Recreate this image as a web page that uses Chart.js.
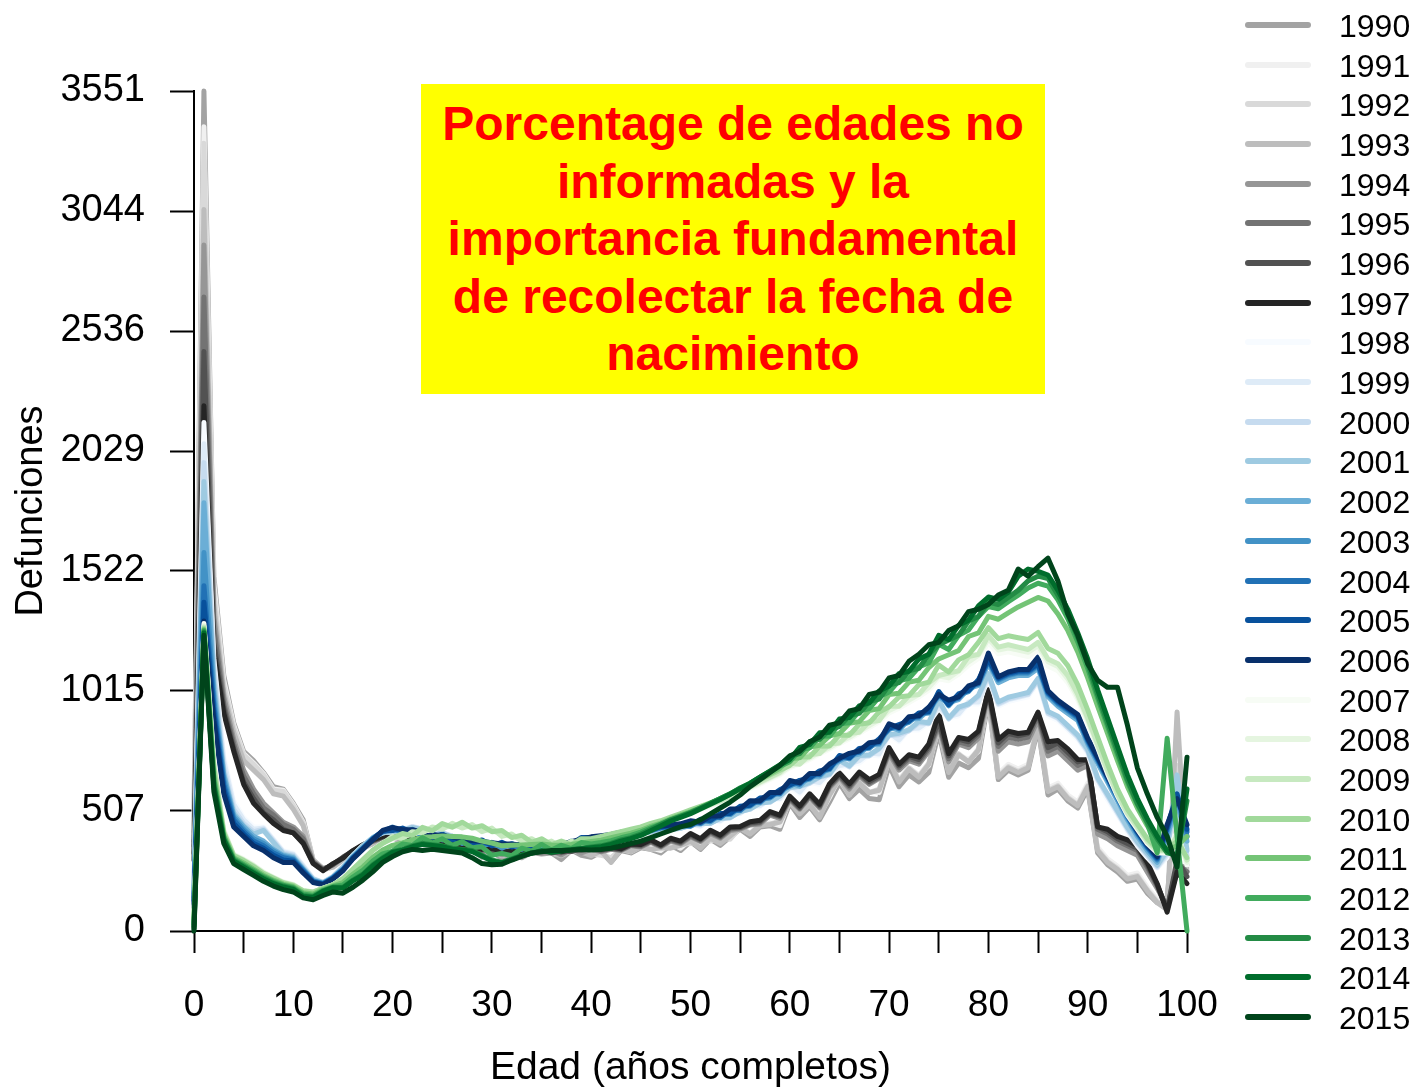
<!DOCTYPE html>
<html>
<head>
<meta charset="utf-8">
<script src="https://cdn.jsdelivr.net/npm/chart.js@4.4.1/dist/chart.umd.min.js"></script>
<style>
body{margin:0;background:#fff;}
#wrap{position:relative;width:1417px;height:1088px;overflow:hidden;font-family:"Liberation Sans",Arial,sans-serif;}
#note{position:absolute;left:421px;top:84px;width:624px;height:310px;background:#ffff00;color:#ff0000;
 font-weight:bold;font-size:48px;line-height:57.5px;text-align:center;display:flex;align-items:center;justify-content:center;}
#legend{position:absolute;left:0;top:0;}
.item{position:absolute;left:1245px;height:40px;width:172px;}
.item .ln{position:absolute;left:0;top:17px;width:66px;height:6px;border-radius:3px;}
.item .tx{position:absolute;left:94px;top:1px;font-size:32px;line-height:40px;color:#000;}
</style>
</head>
<body>
<div id="wrap">
<canvas id="chart" width="1417" height="1088"></canvas>
<div id="note"><div>Porcentage de edades no<br>informadas y la<br>importancia fundamental<br>de recolectar la fecha de<br>nacimiento</div></div>
<div id="legend"></div>
</div>
<script>
//DATA
const AGES=[0,1,2,3,4,5,6,7,8,9,10,11,12,13,14,15,16,17,18,19,20,21,22,23,24,25,26,27,28,29,30,31,32,33,34,35,36,37,38,39,40,
41,42,43,44,45,46,47,48,49,50,51,52,53,54,55,56,57,58,59,60,61,62,63,64,65,66,67,68,69,70,71,72,73,74,75,76,77,78,79,80,
81,82,83,84,85,86,87,88,89,90,91,92,93,94,95,96,97,98,99,100];
const YEARS=[1990,1991,1992,1993,1994,1995,1996,1997,1998,1999,2000,2001,2002,2003,2004,2005,2006,2007,2008,2009,2010,2011,2012,2013,2014,2015];
const COLORS=['#a3a3a3','#f0f0f0','#d9d9d9','#bdbdbd','#969696','#737373','#525252','#252525',
'#f7fbff','#deebf7','#c6dbef','#9ecae1','#6baed6','#4292c6','#2171b5','#08519c','#08306b',
'#f7fcf5','#e5f5e0','#c7e9c0','#a1d99b','#74c476','#41ab5d','#238b45','#006d2c','#00441b'];
const Y_TICKS=[0,507.3,1014.6,1521.9,2029.1,2536.4,3043.7,3551];
const Y_MAX=3551;
const X_TICK_LABELS=[0,10,20,30,40,50,60,70,80,90,100];

// deaths by age, one array per year
const D1990=[520,3551,1500,1080,880,760,720,670,610,600,
540,470,300,265,275,305,335,355,375,392,
398,370,410,378,385,355,360,340,342,312,
338,305,332,310,332,325,330,302,342,320,
312,335,292,340,330,352,345,330,362,340,
378,345,388,362,398,430,400,440,445,430,
540,480,525,470,545,625,560,600,560,555,
700,610,660,630,670,840,650,710,690,730,
975,640,680,660,680,860,575,600,550,520,
600,330,280,250,210,220,160,120,140,600,
400];
const D1991=[480,3400,1470,1060,870,750,710,665,600,595,
535,460,295,260,270,300,330,350,372,392,
400,390,408,395,385,375,365,358,345,335,
340,325,335,330,336,345,335,325,345,340,
330,345,300,352,340,360,352,340,372,350,
386,355,398,375,410,440,415,452,458,445,
555,500,540,490,565,650,585,625,590,585,
730,640,690,660,700,870,680,745,725,760,
995,665,705,685,705,885,605,625,575,545,
625,355,305,275,235,245,185,135,110,480,
350];
const D1992=[450,3330,1430,1040,860,745,705,660,595,590,
530,455,300,262,272,302,332,352,370,390,
396,386,402,388,380,370,360,354,340,330,
336,320,330,326,332,340,330,320,340,336,
325,320,310,345,335,358,346,352,355,366,
370,372,380,392,388,436,412,448,452,466,
545,498,535,485,575,640,575,630,585,600,
725,635,690,655,710,860,675,750,715,770,
985,655,695,675,695,875,595,615,565,535,
615,345,295,265,225,235,175,125,100,700,
300];
const D1993=[420,3050,1380,1010,840,720,680,640,580,570,
515,445,298,258,270,300,330,350,368,388,
392,382,398,386,378,368,358,352,338,328,
334,318,328,324,330,338,328,318,338,334,
318,338,290,345,336,355,345,352,350,362,
380,350,392,370,402,435,410,445,450,460,
545,495,535,480,575,645,575,625,585,595,
720,630,685,650,705,865,670,745,715,765,
990,650,690,670,690,870,590,610,560,530,
610,340,290,260,220,230,170,120,90,926,
250];
const D1994=[380,2900,1330,990,810,680,600,540,500,460,
440,400,295,262,280,308,335,358,378,395,
405,385,398,375,392,365,372,352,358,332,
352,322,342,322,342,328,340,322,348,330,
345,335,345,340,360,355,375,355,380,368,
398,378,412,392,425,430,448,452,490,476,
555,515,565,520,605,650,600,655,620,645,
750,680,720,705,760,865,715,790,775,815,
1000,760,800,790,800,895,740,760,720,680,
700,410,390,360,340,320,250,180,100,250,
280];
const D1995=[360,2680,1280,960,790,655,580,520,490,450,
430,390,292,260,280,310,335,360,380,395,
400,395,392,380,385,370,365,360,350,340,
345,330,335,330,335,335,335,330,340,340,
350,338,348,342,362,358,378,358,384,372,
402,382,418,396,430,435,452,458,495,482,
560,518,570,525,612,655,608,662,625,650,
760,690,730,715,770,875,728,800,788,828,
1010,780,820,810,820,910,760,780,740,700,
720,430,410,380,360,340,270,190,95,280,
250];
const D1996=[330,2450,1220,940,770,630,560,500,470,430,
415,375,288,258,282,312,338,362,382,398,
395,405,385,385,380,378,360,368,345,348,
340,338,330,340,330,345,330,338,336,348,
352,342,350,345,366,362,382,360,388,376,
408,386,422,400,435,438,458,462,500,486,
565,522,575,530,616,660,615,668,632,656,
768,698,738,725,780,888,740,810,800,838,
1015,795,835,825,835,920,775,795,755,715,
725,440,420,390,370,350,280,195,90,300,
230];
const D1997=[300,2220,1180,920,760,620,540,495,455,425,
415,370,285,255,285,308,340,365,385,400,
405,400,395,380,390,375,370,365,355,345,
350,335,340,335,340,340,340,335,345,345,
355,345,355,348,368,366,386,364,392,380,
412,390,426,405,440,442,462,468,505,490,
570,528,580,536,622,668,622,672,640,662,
775,705,745,735,790,920,750,818,810,845,
1020,810,845,835,840,925,800,805,770,725,
723,440,430,400,385,360,290,200,80,250,
200];
const D1998=[220,2150,1150,740,550,480,440,440,390,340,
330,280,225,208,232,272,320,360,395,415,
420,425,440,430,420,415,400,395,385,380,
370,365,360,355,360,365,360,355,365,375,
385,390,400,405,410,415,420,425,430,435,
450,440,468,462,492,495,528,525,560,555,
610,580,628,620,665,690,700,710,745,740,
830,800,850,850,880,940,900,910,960,960,
1070,950,970,980,990,1050,910,890,850,810,
750,620,555,490,420,360,310,265,310,600,
280];
const D1999=[210,2060,1130,720,535,470,430,435,385,335,
325,275,222,206,231,271,320,360,395,415,
422,428,442,432,422,416,402,396,386,382,
372,366,362,356,362,367,362,357,367,377,
387,392,402,407,412,417,422,427,432,437,
452,444,470,466,494,498,530,530,560,560,
618,588,636,628,672,700,706,720,752,748,
838,808,856,858,888,948,906,918,968,968,
1078,958,978,988,998,1058,918,898,858,818,
758,638,568,498,428,368,318,268,320,620,
300];
const D2000=[195,1980,1090,690,515,455,420,430,380,330,
320,270,220,205,230,270,320,360,395,415,
420,425,440,430,420,415,400,395,385,380,
370,365,360,355,360,365,360,355,365,375,
385,390,400,405,410,415,420,425,430,435,
446,456,454,478,478,506,514,542,544,572,
604,610,624,650,660,720,694,740,740,770,
826,830,846,880,876,970,896,940,956,990,
1082,962,982,992,1002,1062,922,902,862,822,
762,642,572,502,432,372,322,272,330,640,
320];
const D2001=[185,1900,1060,670,500,445,410,425,375,325,
315,265,218,204,229,269,320,360,395,415,
418,424,438,428,418,414,398,394,384,378,
368,364,358,354,358,364,358,354,364,374,
384,388,398,404,408,414,418,424,428,434,
448,454,456,476,480,504,516,540,546,570,
608,612,628,652,664,722,698,742,744,772,
830,836,850,886,880,976,900,946,960,996,
1088,968,988,998,1008,1068,928,908,868,828,
768,648,578,508,438,378,328,278,340,660,
340];
const D2002=[160,1810,1020,660,490,440,400,380,345,320,
310,262,214,202,227,262,312,352,392,420,
430,420,420,410,400,395,390,380,375,370,
365,360,360,355,360,365,360,360,370,380,
390,395,400,410,415,420,425,435,440,445,
460,452,480,478,510,508,545,542,580,578,
625,612,655,652,695,718,740,748,785,788,
865,848,895,898,935,988,965,978,1025,1038,
1130,1050,1070,1080,1080,1110,990,950,920,890,
790,710,630,550,470,400,340,290,400,540,
380];
const D2003=[145,1600,980,640,480,430,390,370,338,315,
305,258,212,201,226,261,311,351,391,420,
440,410,430,400,410,385,400,370,385,360,
375,350,370,345,370,355,370,350,380,370,
390,395,400,410,415,420,425,435,440,445,
442,468,462,492,492,522,527,557,562,592,
612,632,642,672,682,738,727,768,772,808,
852,868,882,918,922,1008,952,998,1012,1058,
1140,1060,1080,1090,1090,1120,1000,960,930,900,
800,720,640,560,480,410,350,300,420,560,
400];
const D2004=[130,1460,950,620,470,420,380,360,330,310,
300,255,210,200,225,260,310,350,390,420,
432,422,422,412,402,397,392,382,377,372,
367,362,362,357,362,367,362,362,372,382,
392,397,402,412,417,422,427,437,442,447,
462,455,482,480,512,510,547,545,582,580,
632,620,662,660,702,725,748,755,792,795,
872,855,902,905,942,995,972,985,1032,1045,
1145,1065,1085,1095,1095,1125,1005,965,935,905,
805,725,645,565,485,415,355,305,430,570,
420];
const D2005=[115,1390,920,600,455,410,370,350,320,300,
295,250,207,198,222,257,307,347,388,422,
425,435,415,425,395,410,385,395,370,385,
360,375,355,370,355,380,355,375,365,395,
395,400,405,415,420,425,430,440,445,450,
447,472,467,497,497,527,532,562,567,597,
617,637,647,677,687,742,732,772,777,812,
857,872,887,922,927,1012,957,1002,1017,1062,
1150,1070,1090,1100,1100,1130,1010,970,940,910,
810,730,650,570,490,420,360,310,440,580,
430];
const D2006=[100,1310,890,580,440,400,360,340,310,290,
290,245,205,196,220,255,305,345,385,425,
438,428,428,418,408,403,398,388,383,378,
373,368,368,363,368,373,368,368,378,388,
398,403,408,418,423,428,433,443,448,453,
466,460,486,486,516,516,551,550,586,586,
636,626,666,666,706,730,751,761,796,801,
876,860,906,910,946,1000,976,990,1036,1050,
1175,1075,1095,1105,1105,1158,1015,975,945,915,
815,735,655,575,495,425,365,315,450,560,
450];
const D2007=[70,1300,720,430,325,305,280,250,228,208,
198,172,166,180,195,222,262,302,342,372,
392,400,410,422,428,436,440,442,436,428,
422,408,398,388,380,374,368,364,368,374,
384,394,404,414,424,434,448,458,472,486,
500,514,528,544,562,582,602,620,640,660,
690,705,725,748,768,792,812,836,860,884,
922,942,966,990,1018,1066,1058,1086,1124,1152,
1220,1172,1180,1170,1160,1190,1120,1100,1050,975,
880,775,665,570,490,430,370,330,330,420,
280];
const D2008=[65,1290,710,425,322,302,278,248,226,206,
196,171,165,180,195,221,261,301,341,371,
391,401,411,424,430,438,443,444,438,429,
424,409,399,389,380,375,369,365,369,375,
385,395,405,415,425,435,449,459,474,488,
503,517,532,547,566,586,606,626,646,666,
696,711,731,755,775,799,819,844,868,893,
932,952,976,1000,1030,1078,1070,1098,1138,1166,
1236,1188,1196,1188,1178,1206,1138,1118,1066,988,
890,782,672,575,495,435,375,335,335,410,
290];
const D2009=[60,1285,700,420,320,300,275,245,225,205,
195,170,165,180,195,220,260,300,340,370,
400,390,420,415,440,430,455,435,450,420,
435,400,410,380,390,365,380,355,380,365,
385,395,405,415,425,435,450,460,475,490,
505,520,535,550,570,590,610,630,650,670,
710,705,745,750,790,795,835,840,885,890,
950,950,995,1000,1050,1080,1090,1100,1160,1170,
1250,1200,1210,1200,1190,1220,1150,1130,1080,1000,
900,790,680,580,500,440,380,340,340,400,
300];
const D2010=[50,1280,690,415,318,298,272,243,223,203,
193,169,164,181,196,221,261,301,341,371,
392,412,403,438,424,454,439,460,435,445,
420,425,395,405,375,390,365,380,365,390,
390,400,410,420,430,440,455,466,481,496,
512,527,542,558,578,598,618,638,659,680,
700,736,736,781,782,828,828,874,880,926,
948,989,995,1041,1052,1124,1095,1146,1168,1220,
1282,1236,1248,1240,1232,1262,1194,1174,1122,1040,
935,820,705,600,515,452,390,348,345,380,
310];
const D2011=[40,1275,660,405,310,288,262,236,215,198,
188,162,156,176,191,205,240,272,312,342,
362,372,385,396,398,402,400,398,392,380,
372,360,362,364,366,368,364,362,366,372,
378,384,394,404,414,426,442,456,474,490,
505,522,540,558,578,600,620,642,664,688,
728,732,778,785,825,835,878,885,932,940,
1000,1005,1052,1060,1114,1150,1168,1185,1245,1260,
1330,1318,1345,1370,1390,1410,1395,1340,1270,1180,
1070,950,835,720,610,520,445,380,340,360,
400];
const D2012=[30,1270,640,398,305,280,256,230,210,194,
184,156,150,172,188,195,228,256,296,326,
338,368,362,394,372,390,362,378,352,356,
320,328,318,350,338,366,342,362,348,374,
368,374,382,394,404,418,436,452,470,486,
502,520,540,560,580,603,624,648,672,696,
716,765,774,823,824,876,880,930,940,990,
1010,1058,1068,1116,1134,1212,1190,1250,1272,1330,
1372,1362,1392,1420,1450,1470,1458,1400,1320,1222,
1110,985,865,745,630,535,455,330,815,400,
0];
const D2013=[20,1265,620,390,300,275,250,225,205,190,
180,150,145,170,185,185,215,240,280,310,
335,345,360,370,365,360,350,345,340,320,
300,290,305,320,330,340,335,340,345,350,
355,360,370,385,395,410,430,450,470,485,
500,520,540,560,580,605,625,650,675,700,
740,750,800,810,850,865,910,920,970,980,
1040,1050,1100,1110,1170,1210,1230,1250,1310,1330,
1390,1380,1410,1440,1480,1500,1490,1420,1340,1240,
1130,1000,880,760,640,540,460,390,330,320,
550];
const D2014=[10,1260,610,385,295,270,245,220,200,186,
176,146,142,168,183,182,212,236,276,306,
332,342,356,366,362,356,346,342,336,316,
296,288,302,318,328,338,333,338,343,348,
352,356,366,380,390,404,424,444,465,480,
496,516,536,556,578,602,624,650,676,702,
725,776,788,838,840,896,902,952,964,1015,
1036,1088,1098,1150,1170,1250,1232,1292,1314,1374,
1412,1402,1432,1500,1530,1520,1505,1440,1360,1260,
1150,1020,900,780,660,560,475,400,340,310,
600];
const D2015=[0,1250,590,370,285,260,235,210,190,175,
165,140,132,150,165,160,185,215,250,290,
315,335,345,340,345,340,335,330,310,285,
280,282,300,315,330,335,340,340,342,345,
342,345,350,360,370,380,395,410,425,440,
450,470,495,520,545,575,610,640,670,700,
740,760,800,820,870,880,930,940,1000,1010,
1070,1080,1140,1170,1210,1220,1270,1290,1350,1360,
1380,1420,1440,1530,1500,1540,1576,1480,1340,1250,
1130,1060,1030,1030,870,690,580,480,400,270,
735];

const SERIES=[D1990,D1991,D1992,D1993,D1994,D1995,D1996,D1997,D1998,D1999,D2000,D2001,D2002,
D2003,D2004,D2005,D2006,D2007,D2008,D2009,D2010,D2011,D2012,D2013,D2014,D2015];

const FONT="'Liberation Sans', Arial, sans-serif";

// build datasets, later years drawn on top
function buildDatasets(){
	let sets=[];
	for(let i=0;i<SERIES.length;i++){
		sets.push({
			label:String(YEARS[i]),
			data:SERIES[i].map((v,j)=>({x:AGES[j],y:v})),
			borderColor:COLORS[i],
			borderWidth:5,
			pointRadius:0,
			tension:0,
			fill:false,
			clip:false,
			borderCapStyle:'round',
			borderJoinStyle:'round',
			order:SERIES.length-1-i
		});
	}
	return sets;
}

// legend on the right, one row per year
function buildLegend(){
	const box=document.getElementById('legend');
	for(let i=0;i<YEARS.length;i++){
		const item=document.createElement('div');
		item.className='item';
		item.style.top=(5+i*39.68)+'px';
		const ln=document.createElement('span');
		ln.className='ln';
		ln.style.background=COLORS[i];
		const tx=document.createElement('span');
		tx.className='tx';
		tx.innerText=YEARS[i];
		item.appendChild(ln);
		item.appendChild(tx);
		box.appendChild(item);
	}
}

const ctx=document.getElementById('chart').getContext('2d');
const chart=new Chart(ctx,{
	type:'line',
	data:{datasets:buildDatasets()},
	options:{
		responsive:false,
		animation:false,
		devicePixelRatio:1,
		layout:{padding:{left:0,top:91,right:230,bottom:0}},
		plugins:{legend:{display:false},tooltip:{enabled:false}},
		scales:{
			x:{
				type:'linear',
				min:0,max:100,
				afterFit:(s)=>{s.height=157;},
				border:{display:true,color:'#000',width:2},
				grid:{drawOnChartArea:false,drawTicks:true,tickLength:22,color:'#000',tickWidth:2},
				ticks:{
					stepSize:5,autoSkip:false,maxRotation:0,padding:31,color:'#000',
					font:{family:FONT,size:37},
					callback:(v)=>X_TICK_LABELS.includes(v)?String(v):''
				},
				title:{display:true,text:'Edad (años completos)',color:'#000',font:{family:FONT,size:39,lineHeight:1},padding:{top:0,bottom:0}}
			},
			y:{
				type:'linear',
				min:0,max:Y_MAX,
				afterFit:(s)=>{s.width=194;},
				afterBuildTicks:(s)=>{s.ticks=Y_TICKS.map(v=>({value:v}));},
				border:{display:true,color:'#000',width:2},
				grid:{drawOnChartArea:false,drawTicks:true,tickLength:24,color:'#000',tickWidth:2},
				ticks:{
					padding:25,color:'#000',
					font:{family:FONT,size:38},
					callback:(v)=>String(Math.round(v))
				},
				title:{display:true,text:'Defunciones',color:'#000',font:{family:FONT,size:38},padding:{top:9,bottom:0}}
			}
		}
	}
});

buildLegend();
</script>
</body>
</html>
